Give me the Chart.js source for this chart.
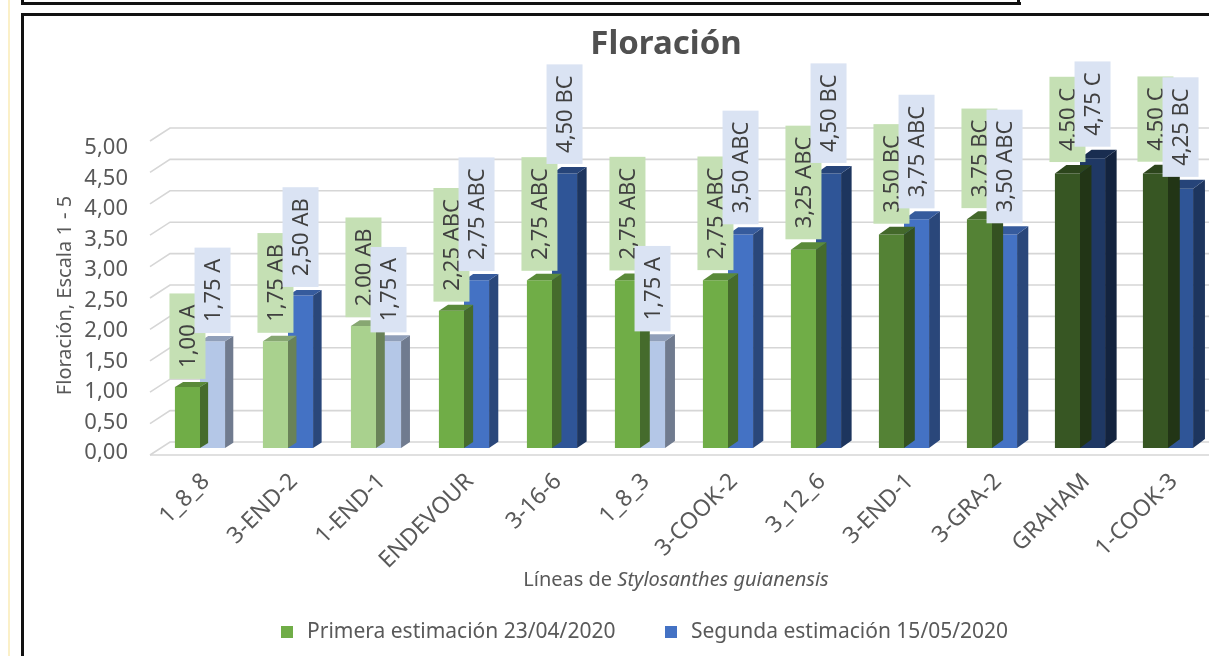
<!DOCTYPE html>
<html lang="es">
<head>
<meta charset="utf-8">
<title>Floración</title>
<script src="https://cdn.jsdelivr.net/npm/chart.js@4.4.1/dist/chart.umd.min.js"></script>
<style>
  html, body { margin: 0; padding: 0; background: #fff; overflow: hidden; }
  #wrap { position: relative; width: 1209px; height: 656px; overflow: hidden; }
  #floracion { position: absolute; left: 0; top: 0; }
  .line { position: absolute; background: #111; }
</style>
</head>
<body>
<div id="wrap">
  <canvas id="floracion" width="1216" height="656"></canvas>
  <!-- page frame around the figure -->
  <div class="line" style="left:8px;top:0;width:2px;height:656px;background:#fbf0c8"></div>
  <div class="line" style="left:21px;top:2px;width:1000px;height:3px"></div>
  <div class="line" style="left:1017px;top:0;width:3px;height:5px"></div>
  <div class="line" style="left:21px;top:0;width:3px;height:5px"></div>
  <div class="line" style="left:21px;top:13px;width:1188px;height:3px"></div>
  <div class="line" style="left:21px;top:13px;width:3px;height:643px"></div>
</div>
<script>
// ===== DATA =====
const lines = ['1_8_8', '3-END-2', '1-END-1', 'ENDEVOUR', '3-16-6', '1_8_3',
  '3-COOK-2', '3_12_6', '3-END-1', '3-GRA-2', 'GRAHAM', '1-COOK-3'];

const primera = [1.00, 1.75, 2.00, 2.25, 2.75, 2.75, 2.75, 3.25, 3.50, 3.75, 4.50, 4.50];
const primeraGroups = ['A', 'AB', 'AB', 'ABC', 'ABC', 'ABC', 'ABC', 'ABC', 'BC', 'BC', 'C', 'C'];

const segunda = [1.75, 2.50, 1.75, 2.75, 4.50, 1.75, 3.50, 4.50, 3.75, 3.50, 4.75, 4.25];
const segundaGroups = ['A', 'AB', 'A', 'ABC', 'BC', 'A', 'ABC', 'BC', 'ABC', 'ABC', 'C', 'BC'];

const yTicks = [0, 0.5, 1, 1.5, 2, 2.5, 3, 3.5, 4, 4.5, 5];

// ===== STYLES =====
const FONT = '"Noto Sans", "Open Sans", sans-serif';
const greenShades = ['#70ad47', '#a9d18e', '#a9d18e', '#70ad47', '#70ad47', '#70ad47',
  '#70ad47', '#70ad47', '#548235', '#548235', '#375623', '#375623'];
const blueShades = ['#b4c7e7', '#4472c4', '#b4c7e7', '#4472c4', '#2f5597', '#b4c7e7',
  '#4472c4', '#2f5597', '#4472c4', '#4472c4', '#1f3864', '#2f5597'];
const labelBoxColors = ['#c5e0b4', '#dae3f3'];

function shade(hex, f) {
  const n = parseInt(hex.slice(1), 16);
  const r = Math.round(((n >> 16) & 255) * f);
  const g = Math.round(((n >> 8) & 255) * f);
  const b = Math.round((n & 255) * f);
  return `rgb(${r},${g},${b})`;
}

function fmt(v) {
  return v.toFixed(2).replace('.', ',');
}

// depth of the fake 3D extrusion grows a little towards the right
function depthAt(chart, x) {
  const { left, right } = chart.chartArea;
  const t = (x - left) / (right - left);
  return { dx: 8 + 4 * t, dy: -(5 + 4 * t) };
}

const backWall = {
  id: 'backWall',
  beforeDatasetsDraw(chart) {
    const { ctx, chartArea: { left, right } } = chart;
    const ys = chart.scales.y;
    ctx.save();
    ctx.strokeStyle = '#d6d6d6';
    ctx.lineWidth = 1.6;
    ys.ticks.forEach(t => {
      const py = ys.getPixelForValue(t.value);
      const by = py - 6 - 1.8 * t.value;
      ctx.beginPath();
      ctx.moveTo(left - 6, by + 13);
      ctx.lineTo(left + 14, by);
      ctx.lineTo(right, by);
      ctx.stroke();
    });
    const fy = ys.getPixelForValue(0) + 7;
    ctx.beginPath();
    ctx.moveTo(left - 6, fy);
    ctx.lineTo(right, fy);
    ctx.stroke();
    ctx.restore();
  },
};

const bars3d = {
  id: 'bars3d',
  afterDatasetDraw(chart, args) {
    const { ctx } = chart;
    const colors = chart.data.datasets[args.index].backgroundColor;
    ctx.save();
    args.meta.data.forEach((bar, i) => {
      const { x, y, base, width } = bar.getProps(['x', 'y', 'base', 'width'], true);
      const { dx, dy } = depthAt(chart, x);
      const l = x - width / 2;
      const r = x + width / 2;
      ctx.fillStyle = shade(colors[i], 0.62);
      ctx.beginPath();
      ctx.moveTo(r, y);
      ctx.lineTo(r + dx, y + dy);
      ctx.lineTo(r + dx, base + dy);
      ctx.lineTo(r, base);
      ctx.closePath();
      ctx.fill();
      ctx.fillStyle = shade(colors[i], 0.8);
      ctx.beginPath();
      ctx.moveTo(l, y);
      ctx.lineTo(l + dx, y + dy);
      ctx.lineTo(r + dx, y + dy);
      ctx.lineTo(r, y);
      ctx.closePath();
      ctx.fill();
    });
    ctx.restore();
  },
};

const annotations = {
  id: 'annotations',
  afterDatasetsDraw(chart) {
    const { ctx } = chart;
    ctx.save();

    // value labels, rotated, in coloured boxes
    ctx.font = `22px ${FONT}`;
    ctx.textBaseline = 'middle';
    chart.data.datasets.forEach((ds, di) => {
      chart.getDatasetMeta(di).data.forEach((bar, i) => {
        const { x, y } = bar.getProps(['x', 'y'], true);
        const { dy } = depthAt(chart, x);
        const text = `${fmt(ds.data[i])} ${ds.groups[i]}`;
        const len = ctx.measureText(text).width + 22;
        ctx.save();
        ctx.translate(x, y + dy - 3);
        ctx.rotate(-Math.PI / 2);
        ctx.fillStyle = labelBoxColors[di];
        ctx.fillRect(0, -18, len, 36);
        ctx.fillStyle = '#404040';
        ctx.fillText(text, 11, 1);
        ctx.restore();
      });
    });

    // chart title
    ctx.fillStyle = '#505050';
    ctx.textAlign = 'center';
    ctx.font = `bold 33px ${FONT}`;
    ctx.fillText('Floración', 666, 45);

    // x axis title with italic species name
    ctx.textAlign = 'left';
    ctx.fillStyle = '#595959';
    const a = 'Líneas de ';
    const b = 'Stylosanthes guianensis';
    ctx.font = `20px ${FONT}`;
    const wa = ctx.measureText(a).width;
    ctx.font = `italic 20px ${FONT}`;
    const wb = ctx.measureText(b).width;
    const sx = 676 - (wa + wb) / 2;
    ctx.font = `20px ${FONT}`;
    ctx.fillText(a, sx, 580);
    ctx.font = `italic 20px ${FONT}`;
    ctx.fillText(b, sx + wa, 580);

    // legend
    ctx.font = `21px ${FONT}`;
    const legendX = [281, 665];
    const legendColors = ['#70ad47', '#4472c4'];
    chart.data.datasets.forEach((ds, di) => {
      ctx.fillStyle = legendColors[di];
      ctx.fillRect(legendX[di], 626, 12, 12);
      ctx.fillStyle = '#595959';
      ctx.fillText(ds.label, legendX[di] + 26, 632);
    });

    ctx.restore();
  },
};

new Chart(document.getElementById('floracion').getContext('2d'), {
  type: 'bar',
  data: {
    labels: lines,
    datasets: [
      {
        label: 'Primera estimación 23/04/2020',
        data: primera,
        groups: primeraGroups,
        backgroundColor: greenShades,
      },
      {
        label: 'Segunda estimación 15/05/2020',
        data: segunda,
        groups: segundaGroups,
        backgroundColor: blueShades,
      },
    ],
  },
  options: {
    responsive: false,
    animation: false,
    layout: { padding: { top: 143, left: 0, right: 4, bottom: 0 } },
    datasets: { bar: { categoryPercentage: 0.57, barPercentage: 1, borderWidth: 0 } },
    plugins: {
      legend: { display: false },
      title: { display: false },
      tooltip: { enabled: false },
    },
    scales: {
      x: {
        grid: { display: false, drawTicks: false },
        border: { display: false },
        ticks: {
          autoSkip: false,
          minRotation: 45,
          maxRotation: 45,
          padding: 20,
          labelOffset: 6,
          color: '#595959',
          font: { family: FONT, size: 23 },
        },
        afterFit(scale) { scale.height = 208; },
      },
      y: {
        min: 0,
        max: 5,
        afterBuildTicks(scale) { scale.ticks = yTicks.map(v => ({ value: v })); },
        grid: { display: false, drawTicks: false },
        border: { display: false },
        ticks: {
          padding: 28,
          labelOffset: 5,
          color: '#595959',
          font: { family: FONT, size: 22 },
          callback: v => fmt(v),
        },
        title: {
          display: true,
          text: 'Floración, Escala 1 - 5',
          color: '#595959',
          font: { family: FONT, size: 20 },
          padding: { top: 53, bottom: 0 },
        },
        afterFit(scale) { scale.width = 156; },
      },
    },
  },
  plugins: [backWall, bars3d, annotations],
});
</script>
</body>
</html>
